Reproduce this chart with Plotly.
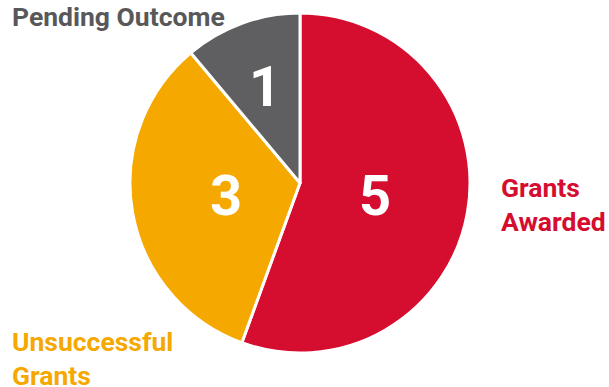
import math
import plotly.graph_objects as go

labels = ["Grants Awarded", "Unsuccessful Grants", "Pending Outcome"]
values = [5, 3, 1]
colors = ["#D50D2F", "#F5A800", "#5F5F61"]
label_text = ["Grants<br>Awarded", "Unsuccessful<br>Grants", "Pending Outcome"]
label_colors = ["#D50D2F", "#F5A800", "#58585A"]

W, H = 609, 387
# pie geometry in pixels (layout only)
PX0, PX1, PY0, PY1 = 130, 470, 13, 353
CX, CY, R = (PX0 + PX1) / 2, (PY0 + PY1) / 2, (PX1 - PX0) / 2
value_radius = [0.45, 0.44, 0.6]  # fraction of radius where the value text sits

fig = go.Figure()
fig.add_trace(go.Pie(
    labels=labels, values=values, sort=False, direction="clockwise", rotation=0,
    marker=dict(colors=colors, line=dict(color="white", width=3)),
    textinfo="none",
    domain=dict(x=[PX0 / W, PX1 / W], y=[(H - PY1) / H, (H - PY0) / H]),
    showlegend=False, hoverinfo="label+value",
))

# value labels at slice mid-angles
total = sum(values)
cum = 0
for v, rf in zip(values, value_radius):
    mid = (cum + v / 2) / total * 2 * math.pi
    cum += v
    px = CX + rf * R * math.sin(mid)
    py = CY - rf * R * math.cos(mid)
    fig.add_annotation(x=px / W, y=1 - py / H, xref="paper", yref="paper", text=str(v),
                       showarrow=False, xanchor="center", yanchor="middle",
                       font=dict(family="Roboto", size=56, color="white", weight="bold"))

ann_pos = [(499, 204), (10, 358), (10, 16)]
for (x, y), t, c in zip(ann_pos, label_text, label_colors):
    fig.add_annotation(x=x / W, y=1 - y / H, xref="paper", yref="paper", text=t,
                       showarrow=False, xanchor="left", yanchor="middle", align="left",
                       font=dict(family="Roboto", size=26.5, color=c, weight="bold"))

fig.update_layout(width=W, height=H, margin=dict(l=0, r=0, t=0, b=0),
                  paper_bgcolor="white", plot_bgcolor="white")
fig.write_html("out.html")
